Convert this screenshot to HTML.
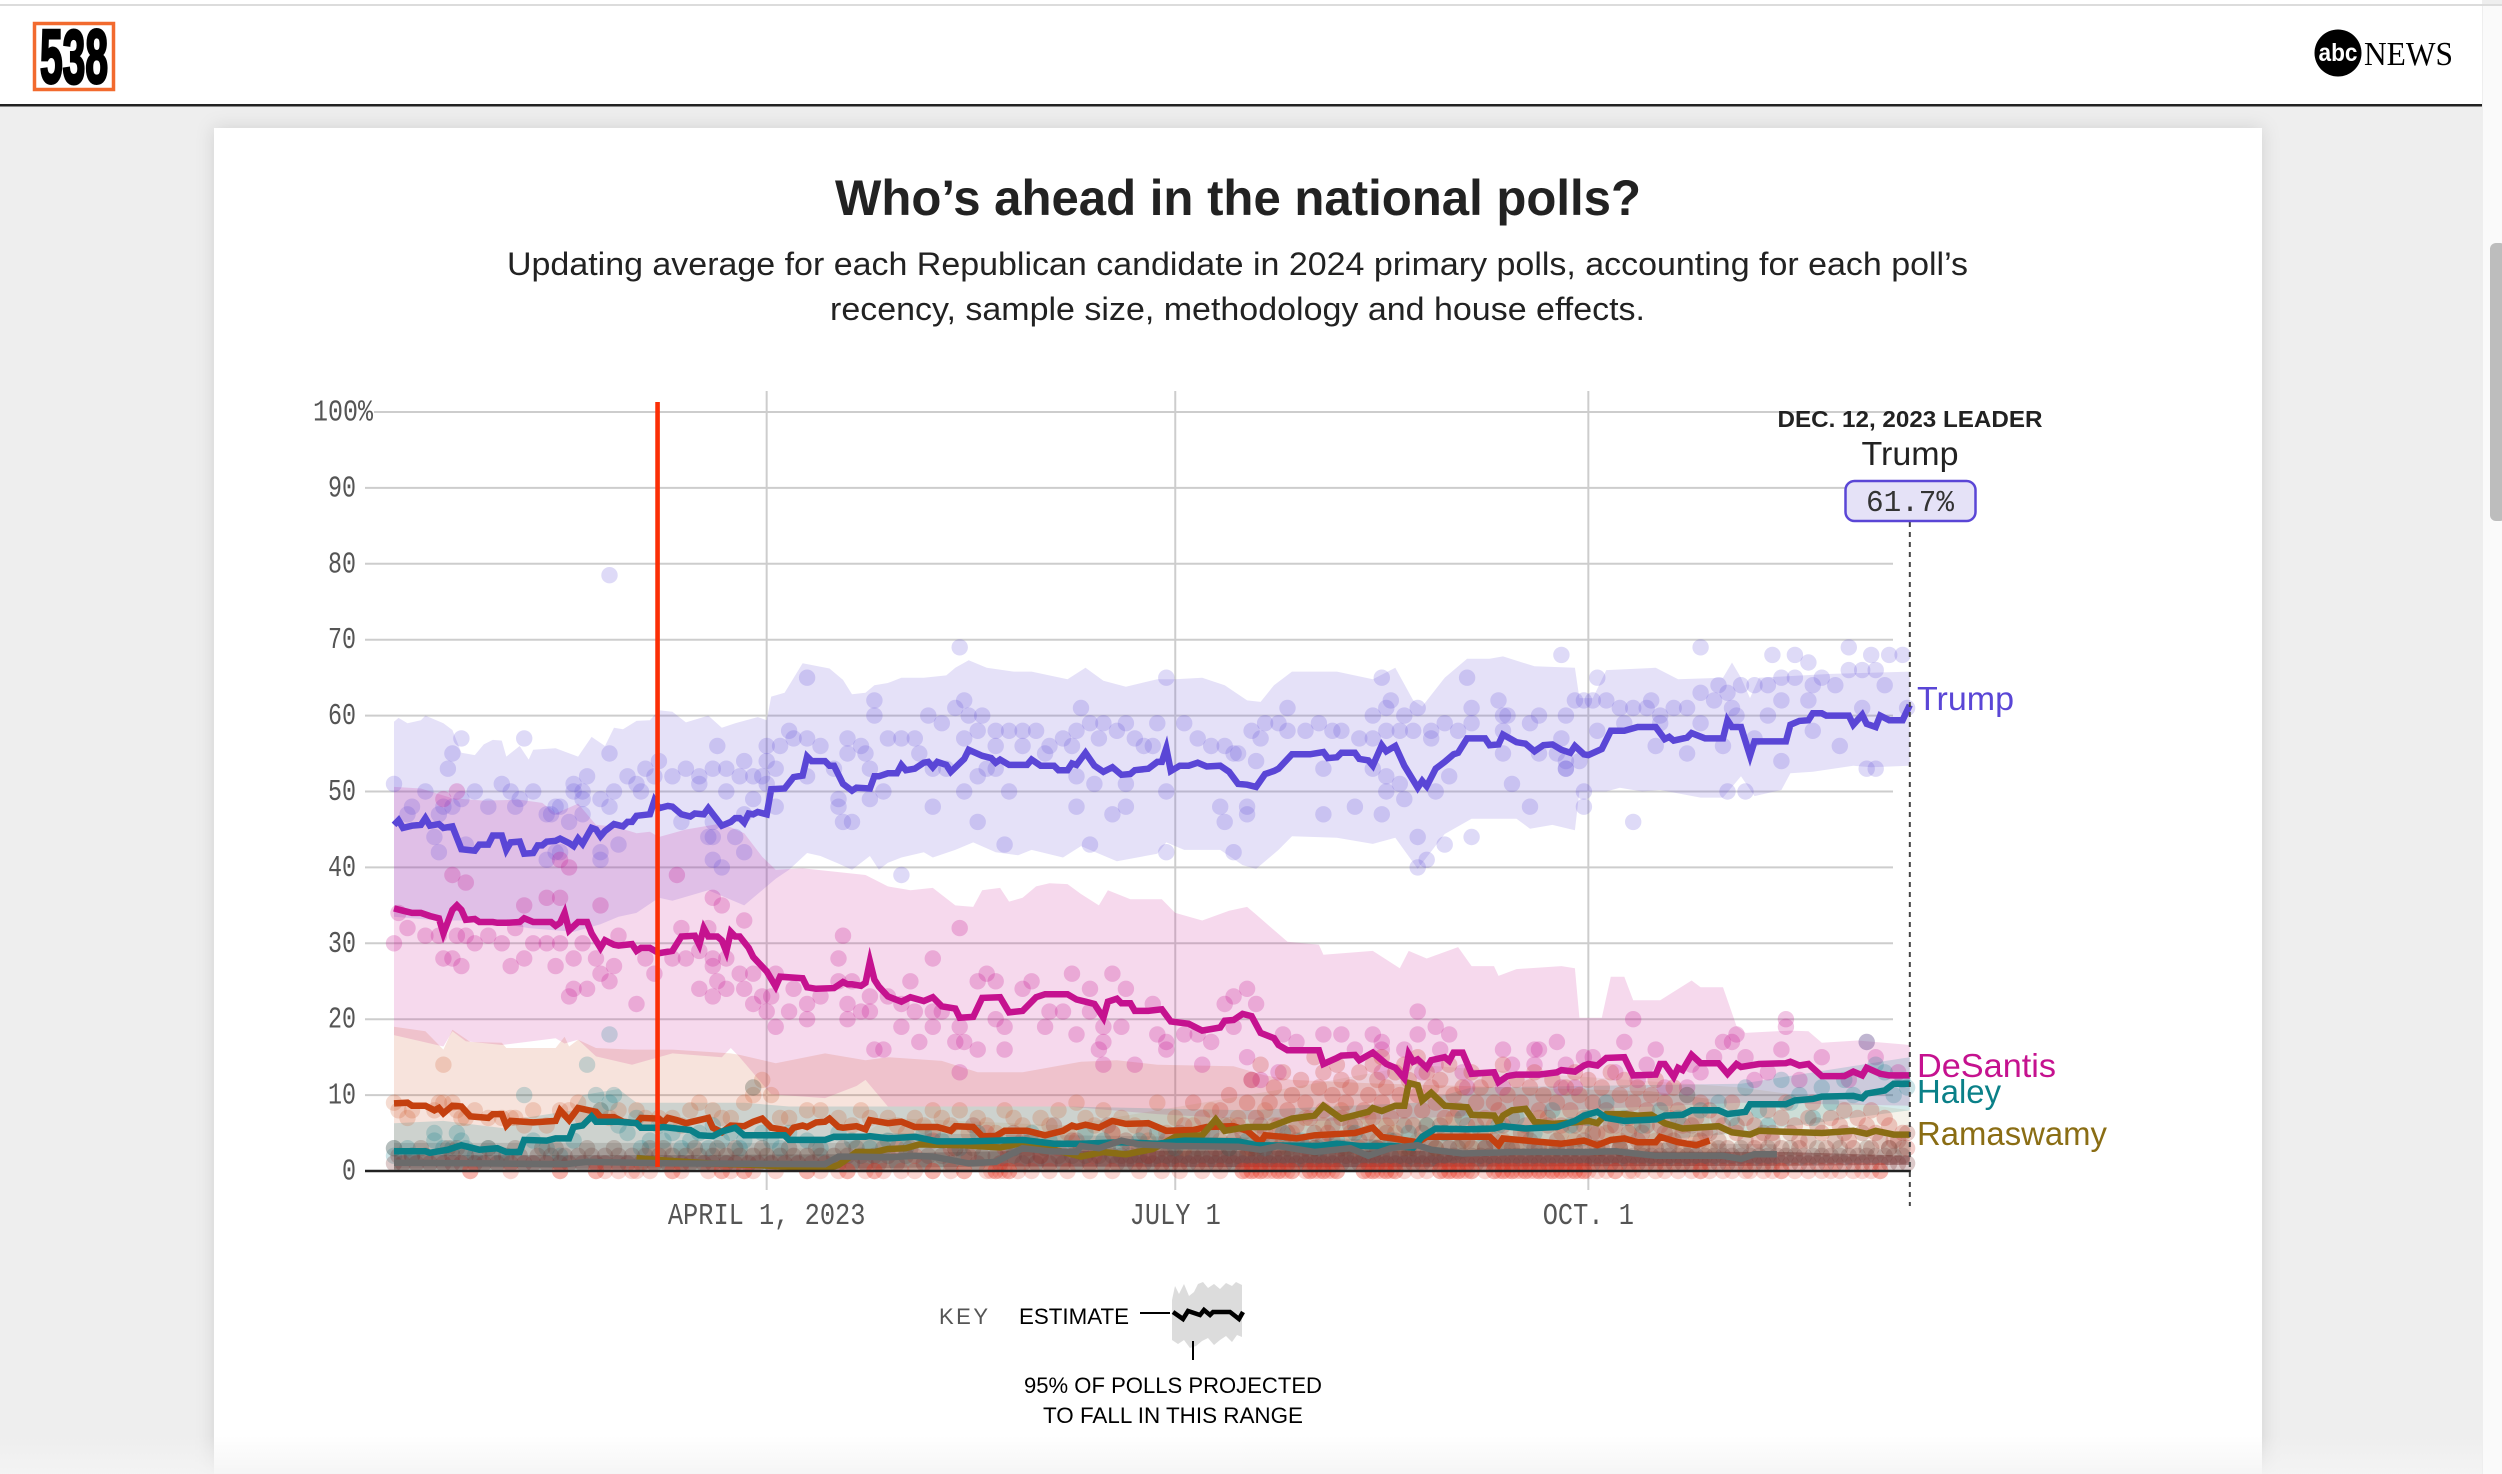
<!DOCTYPE html>
<html lang="en">
<head>
<meta charset="utf-8">
<title>Who’s ahead in the national polls?</title>
<style>
html,body{margin:0;padding:0;width:2502px;height:1474px;overflow:hidden;background:#eee;}
svg{display:block;position:absolute;left:0;top:0;font-family:"Liberation Sans",sans-serif;}
.mono{font-family:"Liberation Mono",monospace;fill:#555;font-size:31px;}
</style>
</head>
<body>
<svg id="page" width="2502" height="1474" viewBox="0 0 2502 1474" xmlns="http://www.w3.org/2000/svg">
<defs>
<filter id="cardShadow" x="-5%" y="-5%" width="110%" height="110%"><feDropShadow dx="0" dy="0" stdDeviation="9" flood-color="#000" flood-opacity="0.13"/></filter>
<linearGradient id="fade" x1="0" y1="0" x2="0" y2="1"><stop offset="0" stop-color="#f4f4f4" stop-opacity="0"/><stop offset="1" stop-color="#f4f4f4" stop-opacity="0.9"/></linearGradient>
</defs>
<rect x="0" y="0" width="2502" height="1474" fill="#eeeeee"/>
<rect x="214" y="128" width="2048" height="1400" fill="#ffffff" filter="url(#cardShadow)"/>
<rect x="0" y="0" width="2482" height="104" fill="#ffffff"/>
<rect x="0" y="4" width="2502" height="2" fill="#dcdcdc"/>
<rect x="0" y="104" width="2482" height="2.5" fill="#222222"/>
<g>
<rect x="2483" y="6" width="19" height="1468" fill="#fafafa"/>
<rect x="2490" y="243" width="16" height="278" rx="6" fill="#bdbdbd"/>
</g>
<g>
<rect x="34.5" y="23.5" width="79" height="66" fill="#ffffff" stroke="#f26a2e" stroke-width="3.5"/>
<text x="40" y="83" font-size="76" font-weight="700" fill="#000" stroke="#000" stroke-width="3" textLength="68" lengthAdjust="spacingAndGlyphs">538</text>
</g>
<g>
<circle cx="2338" cy="53" r="23.5" fill="#000"/>
<text x="2338" y="61" text-anchor="middle" font-size="25" font-weight="700" fill="#fff" textLength="39" lengthAdjust="spacingAndGlyphs">abc</text>
<text x="2364" y="65" font-family="'Liberation Serif',serif" font-size="34" fill="#000" textLength="89" lengthAdjust="spacingAndGlyphs">NEWS</text>
</g>
<text x="1238" y="215" text-anchor="middle" font-size="50" font-weight="700" fill="#222" textLength="806" lengthAdjust="spacingAndGlyphs">Who’s ahead in the national polls?</text>
<text x="1237.5" y="275" text-anchor="middle" font-size="32" fill="#222" textLength="1461" lengthAdjust="spacingAndGlyphs">Updating average for each Republican candidate in 2024 primary polls, accounting for each poll’s</text>
<text x="1237.5" y="320" text-anchor="middle" font-size="32" fill="#222" textLength="815" lengthAdjust="spacingAndGlyphs">recency, sample size, methodology and house effects.</text>
<g id="grid"></g>
<g id="bands"></g>
<g id="dots"></g>
<g id="lines"></g>
<g id="overlay"></g>
<g>
<text x="1910" y="427" text-anchor="middle" font-size="23" font-weight="700" fill="#222" textLength="265" lengthAdjust="spacingAndGlyphs">DEC. 12, 2023 LEADER</text>
<text x="1910" y="465" text-anchor="middle" font-size="33" fill="#222" textLength="97" lengthAdjust="spacingAndGlyphs">Trump</text>
<rect x="1845.5" y="481" width="130" height="40" rx="9" fill="#e5e2f7" stroke="#5a46d6" stroke-width="2.5"/>
<text class="mono" x="1910" y="511" text-anchor="middle" style="fill:#333" textLength="88" lengthAdjust="spacingAndGlyphs">61.7%</text>
</g>
<text x="1917" y="710" font-size="33" fill="#5a46d6" textLength="97" lengthAdjust="spacingAndGlyphs">Trump</text>
<text x="1917" y="1077" font-size="33" fill="#c5128f" textLength="139" lengthAdjust="spacingAndGlyphs">DeSantis</text>
<text x="1917" y="1103" font-size="33" fill="#0a8088" textLength="84" lengthAdjust="spacingAndGlyphs">Haley</text>
<text x="1917" y="1145" font-size="33" fill="#8a6d14" textLength="190" lengthAdjust="spacingAndGlyphs">Ramaswamy</text>
<g>
<text x="939" y="1324" font-size="22" fill="#555" textLength="49" lengthAdjust="spacing">KEY</text>
<text x="1019" y="1324" font-size="22" fill="#000" textLength="110" lengthAdjust="spacingAndGlyphs">ESTIMATE</text>
<line x1="1140" y1="1313" x2="1170" y2="1313" stroke="#000" stroke-width="2"/>
<polygon fill="#dcdcdc" points="1172,1300 1175,1286 1179,1294 1184,1284 1189,1296 1194,1292 1198,1284 1203,1282 1208,1288 1214,1284 1220,1289 1226,1283 1232,1286 1236,1282 1242,1285 1242,1337 1237,1335 1232,1342 1226,1336 1220,1340 1214,1345 1208,1338 1202,1341 1196,1346 1190,1348 1184,1340 1178,1344 1172,1340"/>
<polyline fill="none" stroke="#000" stroke-width="4.5" points="1173,1312 1183,1319 1188,1311 1200,1315 1204,1310 1210,1315 1213,1312 1230,1312 1239,1319 1243,1312"/>
<line x1="1193" y1="1341" x2="1193" y2="1360" stroke="#000" stroke-width="2"/>
<text x="1024" y="1393" font-size="22" fill="#000" textLength="298" lengthAdjust="spacingAndGlyphs">95% OF POLLS PROJECTED</text>
<text x="1043" y="1423" font-size="22" fill="#000" textLength="260" lengthAdjust="spacingAndGlyphs">TO FALL IN THIS RANGE</text>
</g>
<rect x="0" y="1436" width="2482" height="38" fill="url(#fade)"/>
</svg>
<script>
const yTickValues=[0,10,20,30,40,50,60,70,80,90,100];
const xTickDays=[83,174,266];
const xTickLabels=['APRIL 1, 2023','JULY 1','OCT. 1'];
const markerDay=58.7;
const lastDay=337.6;

const trumpAvg=[[0,45.6],[1,46.2],[2,45.2],[4,45.5],[6,45.6],[7,46.5],[8,45.5],[10,45.7],[11,45.2],[13,45.4],[15,42.4],[18,42.2],[19,43],[21,43],[22,44.2],[24,44.2],[25,42.3],[26,43.3],[28,43.4],[29,41.8],[31,41.9],[32,42.9],[33,42.9],[34,43.4],[36,43.5],[37,43.8],[39,43.2],[40,42.8],[41,43.8],[42,43.1],[44,45.2],[45,45],[46,44.1],[47,44.8],[49,45.7],[51,45.4],[52,46],[53,46],[54,46.8],[57,47],[58,48.8],[59,47.8],[61,48.1],[62,48],[64,47],[66,46.7],[67,47.1],[69,47],[70,47.8],[73,45.5],[75,46],[76,46.5],[77,46.5],[78,45.9],[79,47.1],[80,47],[81,47.3],[83,47],[84,50.3],[87,50.4],[89,51.9],[91,52.1],[92,54.6],[93,54],[96,54],[97,53.4],[98,53.4],[100,51],[102,50.1],[103,50.5],[106,50.4],[107,52],[108,52],[110,52.4],[112,52.4],[113,53.5],[114,52.8],[116,53],[118,53.8],[119,53.9],[120,53.2],[121,53.9],[123,53.5],[124,52.6],[127,54.3],[128,55.5],[131,54.7],[133,54.4],[134,53.8],[135,54.2],[137,53.5],[141,53.5],[142,54.2],[144,53.4],[147,53.4],[148,52.8],[150,52.8],[151,53.7],[152,53.5],[154,55.1],[156,53.4],[158,52.6],[160,53.2],[162,52.2],[164,52.3],[165,52.8],[168,53],[170,53.9],[171,53.9],[172,55.7],[173,52.7],[175,53.4],[177,53.4],[179,53.8],[181,53.3],[184,53.4],[186,52.6],[188,51],[190,50.9],[192,50.6],[194,52.3],[196,52.7],[197,53],[200,54.9],[204,54.9],[207,55.2],[208,54.4],[210,54.5],[211,55.1],[214,55.1],[215,54.3],[217,54.1],[218,53.4],[220,56.1],[221,55.3],[223,56],[225,53.4],[228,50.5],[229,51.4],[230,50.7],[232,53],[234,53.9],[236,54.9],[237,55.1],[239,57],[243,57],[244,56.1],[246,56.2],[247,57.5],[250,56.5],[252,56.3],[254,55.3],[256,56.1],[258,56.2],[260,55.5],[262,55.1],[263,56],[265,54.9],[266,54.8],[269,55.6],[271,58],[274,58],[277,58.5],[281,58.5],[283,56.9],[284,57.2],[285,56.7],[288,57.1],[289,57.7],[292,57],[296,57],[297,59.4],[298,58.5],[300,58.5],[302,54.7],[303,56.6],[310,56.6],[311,58.8],[313,59.3],[315,59.4],[316,60.3],[318,60.3],[319,60],[324,60],[325,58.8],[327,60.1],[328,58.9],[330,58.5],[331,60],[333,59.4],[336,59.4],[337.6,61.4]];
const desantisAvg=[[0,34.6],[2,34.3],[4,34],[6,34],[8,33.6],[10,33.3],[11,31.3],[13,34.4],[14,35],[15,34.4],[16,33.1],[18,33.2],[19,32.8],[22,32.8],[23,32.7],[25,32.7],[28,32.8],[29,33.3],[31,32.8],[34,32.8],[35,32.8],[36,32.3],[37,32.7],[38,34],[39,31.7],[41,32.8],[43,32.8],[44,31.3],[46,29.4],[47,30.4],[49,29.8],[50,29.7],[53,29.9],[54,29],[55,29.4],[57,29.4],[59,28.7],[62,29],[64,30.9],[67,31],[68,29.8],[69,32],[70,30.9],[72,30.9],[73,30.4],[74,28.9],[75,31.5],[76,30.9],[77,30.9],[79,29.4],[80,28.2],[83,26.3],[85,24.3],[86,25.6],[91,25.4],[92,24.2],[94,24],[98,24.1],[100,24.9],[101,24.6],[102,24.6],[104,24.4],[105,24.8],[106,27.6],[107,25.2],[108,24.3],[110,23],[113,22.3],[115,22.9],[118,22.4],[120,22.9],[122,21.7],[125,21.4],[126,20.2],[129,20.3],[131,22.8],[135,22.9],[137,20.9],[140,21.1],[143,22.9],[145,23.3],[150,23.3],[152,22.6],[154,22.3],[156,22],[158,20.2],[159,22.3],[161,22.7],[162,22.1],[164,22.1],[165,21.1],[168,21.1],[171,21.3],[173,19.7],[177,19.4],[180,18.5],[184,18.9],[185,19.8],[187,19.9],[189,20.7],[191,20.4],[193,18.2],[196,17.5],[197,16.6],[199,15.9],[206,15.9],[207,14.1],[210,14.9],[211,15.2],[214,15.3],[215,14.6],[218,15.6],[221,14.1],[223,13.6],[225,12.2],[226,15.4],[227,14.4],[228,14.7],[230,13.6],[231,14.6],[234,15],[235,14.5],[236,15.6],[238,15.6],[240,12.8],[245,13],[246,11.7],[248,12.5],[250,12.7],[255,12.7],[259,13],[260,13.3],[263,13.1],[265,13.9],[266,14.1],[268,13.9],[270,14.9],[274,15],[276,12.6],[281,12.7],[282,14.1],[283,14.1],[285,12.4],[286,13.6],[287,13.3],[289,15.3],[291,14.2],[295,14.2],[297,12.8],[299,14.1],[300,13.7],[304,14.1],[310,14.2],[311,14.4],[313,13.9],[315,14.1],[318,12.5],[323,12.5],[325,13.1],[327,12.6],[328,13.6],[331,12.8],[333,12.6],[337.6,12.6]];
const penceAvg=[[0,8.9],[3,9],[4,8.6],[7,8.6],[9,8],[10,8.3],[11,7.6],[13,8.6],[15,8.5],[17,7.2],[21,7],[22,7.5],[24,7.5],[25,6],[26,6.6],[31,6.4],[36,6.6],[37,8],[39,6.7],[41,8.3],[45,7.8],[46,7.1],[49,7.1],[51,6.5],[54,6.3],[55,7],[59,6.9],[60,6.4],[61,7],[63,6.7],[65,6.3],[70,7],[71,5.7],[73,5.1],[75,6],[78,5.9],[80,6.5],[82,6.9],[84,5.7],[87,5.4],[88,5],[89,5.7],[91,6],[92,5.8],[94,6.4],[96,6.5],[97,6.9],[99,5.8],[100,5.7],[103,5.9],[105,5.5],[106,6.7],[110,6.3],[113,6.5],[116,5.8],[121,5.8],[124,5.3],[125,5.9],[129,5.8],[131,4.6],[134,4.6],[136,5.3],[141,5.3],[145,4.7],[149,5.3],[151,6],[152,5.8],[154,6.1],[157,5.7],[160,6.6],[163,6.2],[168,6.3],[172,5.3],[178,5.4],[181,5.8],[187,5.9],[190,5.3],[193,3.8],[194,4.7],[198,4.5],[201,4.3],[205,4.7],[214,5],[218,5.7],[220,4.5],[228,3.8],[230,4.5],[238,4.5],[244,4.5],[246,3.4],[247,4.3],[254,3.9],[260,3.6],[265,4],[268,3.4],[271,4.1],[274,4.3],[277,3.8],[281,3.8],[282,4.5],[286,3.8],[290,3.4],[293,4]];
const haleyAvg=[[0,2.6],[7,2.6],[8,2.4],[12,2.8],[15,3.4],[19,2.8],[23,3],[25,2.5],[28,2.5],[29,4.1],[34,4],[36,4.3],[39,4.3],[40,5.8],[42,6],[44,7.2],[45,6.5],[50,6.5],[54,6.3],[55,5.7],[59,5.7],[60,5.8],[66,5.4],[68,4.7],[71,4.6],[73,5.2],[76,5.7],[78,4.7],[87,4.7],[88,4.1],[96,4.1],[98,4.5],[105,4.5],[106,4.6],[110,4.3],[116,4.5],[121,3.9],[128,3.9],[140,4.1],[147,3.6],[153,3.6],[162,3.8],[170,3.6],[176,4],[188,3.9],[192,3.4],[206,3.3],[210,3.6],[215,3.3],[222,3.3],[227,3.1],[229,4.5],[232,5.6],[239,5.5],[245,5.6],[247,5.9],[252,5.6],[259,5.8],[263,6.6],[265,7.3],[268,7.8],[270,7],[274,6.6],[281,6.8],[283,7.3],[287,7.4],[289,8],[295,8],[297,7.5],[301,7.8],[302,8.8],[310,8.8],[312,9.3],[316,9.5],[318,9.8],[325,9.9],[327,9.6],[328,10.2],[332,10.6],[334,11.5],[337.6,11.5]];
const ramaswamyAvg=[[54,1.7],[60,1.4],[70,1],[80,0.8],[90,0.5],[97,0.4],[99,0.8],[100,1.2],[103,2.5],[107,2.5],[110,2.9],[114,3],[117,3.5],[127,3.4],[135,3.1],[140,3.7],[147,2.8],[153,1.9],[158,2.5],[163,2.2],[169,2.9],[174,4.5],[180,4.7],[183,6.8],[185,5.3],[190,5.8],[195,5.8],[200,6.9],[205,7.3],[207,8.6],[211,6.9],[217,7.8],[218,8.3],[220,7.9],[223,8.6],[225,8.6],[226,11.6],[228,11.3],[229,9.3],[231,10.3],[234,8.6],[239,8.4],[240,7.4],[245,7.3],[246,6.3],[247,7.3],[249,8],[252,8.2],[254,6.5],[258,6.2],[263,6.4],[266,6.6],[268,6.3],[270,7.5],[274,7.5],[277,7.3],[280,7.4],[283,6.3],[287,5.6],[295,5.9],[298,5.1],[302,4.8],[304,5.3],[318,5],[325,5.3],[328,4.9],[330,5.3],[334,4.8],[337.6,4.8]];
const othersAvg=[[0,1.1],[20,1],[38,0.9],[43,1.2],[62,1],[96,0.9],[99,1.9],[103,1.9],[110,1.8],[116,2],[120,1.9],[128,1],[134,1.2],[140,3],[146,2.6],[152,2.5],[153,3.3],[157,3],[162,4],[166,3.5],[174,3.3],[188,3.2],[193,2.8],[197,3.3],[205,2.5],[213,3],[217,2],[222,3],[228,3.4],[231,2.8],[238,2.3],[250,2.5],[266,2.5],[272,2.6],[281,2],[296,2],[300,1.6],[303,2.2],[308,2.2]];

const trumpUpper=[[0,59.2],[1,59.7],[3,59],[6,59.4],[7,60],[11,59],[13,58.1],[15,55.1],[18,54.8],[20,56.2],[22,56.8],[24,56.7],[25,54.6],[28,56],[30,54.2],[31,55.5],[36,55.7],[41,54.6],[44,57.2],[45,56.8],[47,56],[49,58.4],[51,58.2],[54,59.3],[57,59.4],[59,60.7],[62,60.5],[65,59.1],[70,60],[73,58.4],[76,59],[81,59.8],[83,59.4],[84,62.5],[87,63],[91,66.9],[97,66.2],[100,64.7],[102,62.8],[105,63],[107,64],[110,64.3],[113,65],[118,65],[123,65.3],[125,66.3],[128,67.3],[132,66.3],[138,65.8],[142,65.8],[150,64.8],[154,66.3],[158,64.6],[163,63.8],[170,64.8],[174,64.8],[180,65],[185,64],[190,62],[193,61.8],[196,64],[200,65.8],[210,65.8],[218,64.8],[223,66.3],[227,62],[229,61.2],[234,65],[239,67.5],[244,67.5],[247,67.8],[254,66.5],[263,66.3],[264,62.3],[267,62.3],[270,66],[281,66.3],[286,64.8],[296,65],[298,67],[300,65],[302,62.3],[304,65],[320,65.5],[337.6,65.8]];
const trumpLower=[[0,33.5],[10,33],[20,33],[30,32],[40,31.5],[46,32.5],[50,33.5],[54,34],[59,36],[62,35.6],[70,37],[78,35],[83,37.5],[85,38.5],[88,39.7],[92,41.9],[95,41.5],[99,40.5],[102,39.7],[106,41.5],[108,39.7],[110,40.6],[113,41.3],[118,42],[120,41.3],[125,42.3],[129,43.3],[134,42],[139,41.6],[142,42.3],[149,41.3],[153,42.8],[161,40.8],[170,41.8],[172,43.3],[176,42.3],[184,42.3],[189,40.3],[192,39.8],[197,42.3],[200,44.1],[210,43.9],[218,43.1],[223,43.9],[228,39.8],[234,44.4],[240,46.4],[250,46.4],[253,45.1],[258,45.6],[263,44.9],[264,50],[270,50],[273,50.5],[278,50],[282,50.2],[291,49.2],[296,49.2],[300,52],[303,49.4],[309,50.2],[311,52.4],[316,52.6],[325,53.4],[329,53.2],[337.6,53.4]];
const desantisUpper=[[0,50.6],[6,50.4],[13,49.1],[20,48.8],[28,48.9],[33,48.5],[36,47.1],[41,48.4],[45,45.6],[49,45.4],[54,44.5],[57,44.7],[59,44],[65,45],[73,45.8],[78,44.5],[82,41.4],[85,39.7],[91,39.9],[105,39],[110,37.5],[115,37],[120,37.3],[125,35],[129,34.8],[131,37],[135,37.3],[137,35.5],[140,36],[143,37.5],[146,37.9],[150,37.8],[153,36.5],[157,35],[159,37],[164,35.8],[171,35.8],[174,34],[180,33],[186,34.3],[190,34.8],[192,33.8],[199,30.2],[206,29.8],[207,28.5],[218,29],[224,26.7],[226,29],[230,28],[237,29.5],[240,27],[245,27],[246,25.7],[250,26.6],[260,27],[263,26.7],[264,20.2],[269,20.2],[271,25.6],[274,25.6],[276,22.5],[282,22.5],[289,25.1],[291,24.2],[296,24.2],[299,19.1],[301,18.2],[311,18.5],[315,18.4],[318,16.9],[326,17.2],[337.6,16.6]];
const desantisLower=[[0,17.9],[11,16.4],[13,18.4],[16,17.1],[24,16.6],[36,17.5],[38,16.8],[41,17.3],[45,15.1],[53,14],[62,15.5],[73,15],[75,16.2],[77,15],[84,10.1],[96,9.6],[103,11.2],[105,12],[110,8.5],[150,8.5],[170,7.5],[200,6.5],[230,7],[260,8],[300,9],[337.6,8.6]];
const penceUpper=[[0,19],[7,18.4],[11,16],[13,18.6],[17,17],[24,16.9],[25,16.2],[36,16.2],[38,17.7],[39,16.4],[41,17.3],[45,16.2],[53,16],[62,16],[75,15.5],[77,15.3],[85,14.2],[96,15.5],[105,14.6],[110,15],[122,14.5],[130,13],[140,13],[153,14.4],[161,14.6],[170,14],[187,13.8],[194,12.6],[200,12],[220,11.5],[250,11],[280,10.5],[293,9.5]];
const penceLower=[[0,0],[293,0]];
const haleyUpper=[[0,6.3],[11,6.6],[25,5.6],[29,7],[40,8],[42,10],[50,10.8],[54,9],[78,9],[88,8.5],[110,8.5],[150,8.5],[190,8],[228,9],[240,11],[300,11.5],[337.6,15]];
const haleyLower=[[0,0],[228,0],[240,2],[300,5],[337.6,8]];
const ramaswamyUpper=[[54,3],[100,3],[110,7],[150,6],[180,9],[200,11],[228,14],[250,13],[300,11],[337.6,8]];
const ramaswamyLower=[[54,0],[300,0],[337.6,2]];
const othersUpper=[[0,3.7],[100,3.7],[110,5],[308,3.5]];
const othersLower=[[0,0],[308,0]];
const earlyMinorUpper=[[0,2.1],[60,2.1],[100,2.2],[135,2.6]];
const earlyMinorLower=[[0,0.3],[60,0.3],[100,0.3],[135,0.6]];
const minorUpper=[[135,2.6],[200,2.7],[260,2.6],[310,2.5],[337.6,2]];
const minorLower=[[135,0.6],[200,0.5],[260,0.6],[310,0.7],[337.6,0.8]];

const trumpPolls=[[0,51],[3,47],[4,48],[7,50],[9,44],[10,42],[10,47],[11,48],[12,53],[13,55],[15,57],[13,48],[15,49],[16,43],[18,50],[21,48],[24,51],[26,50],[27,48],[28,49],[29,57],[31,50],[34,47],[35,47],[36,48],[37,48],[34,41],[36,42],[37,42],[39,46],[40,51],[40,50],[42,50],[42,47],[43,52],[42,49],[46,49],[48,48],[48,55],[49,50],[48,78.5],[46,42],[46,41],[50,43],[52,52],[54,51],[55,50],[56,53],[58,52],[59,54],[62,52],[64,46],[65,53],[68,52],[68,51],[71,53],[72,56],[70,44],[71,44],[71,46],[71,41],[73,40],[74,53],[74,50],[76,44],[77,52],[78,54],[78,47],[78,42],[80,52],[80,49],[82,52],[83,56],[83,54],[83,51],[85,53],[85,48],[86,56],[88,58],[89,57],[92,65],[92,57],[92,52],[95,56],[98,53],[99,49],[99,48],[100,46],[102,46],[101,57],[101,55],[104,56],[105,55],[106,53],[106,49],[107,62],[107,60],[109,50],[110,57],[126,69],[113,57],[116,57],[117,55],[119,60],[122,59],[125,61],[127,62],[128,60],[131,60],[127,57],[130,58],[134,58],[134,56],[137,58],[140,58],[140,56],[143,58],[146,56],[145,55],[149,57],[151,56],[152,58],[155,59],[153,61],[158,59],[161,58],[163,59],[157,57],[165,57],[167,56],[169,56],[170,59],[172,65],[176,59],[179,57],[182,56],[185,56],[187,55],[188,55],[191,58],[193,57],[194,59],[197,59],[199,61],[199,58],[203,58],[206,59],[209,58],[211,58],[215,57],[218,60],[218,57],[221,61],[222,62],[220,65],[221,58],[224,58],[225,60],[228,61],[227,58],[231,58],[234,59],[231,57],[237,58],[240,61],[239,65],[240,59],[246,62],[247,60],[247,58],[253,59],[255,60],[260,68],[261,60],[260,57],[263,62],[265,62],[247,55],[261,53],[249,51],[253,48],[265,50],[265,48],[120,53],[123,53],[130,52],[132,53],[134,53],[127,50],[120,48],[137,50],[130,46],[136,43],[113,39],[152,52],[156,51],[152,48],[160,47],[163,48],[163,51],[172,50],[155,43],[172,42],[184,48],[185,46],[190,48],[190,47],[187,42],[192,54],[207,53],[207,47],[214,48],[220,47],[221,52],[221,50],[225,49],[224,51],[228,44],[230,41],[228,40],[234,43],[240,44],[235,52],[232,50],[218,53],[291,69],[307,68],[312,68],[324,69],[329,68],[333,68],[336,68],[268,65],[267,62],[270,62],[273,61],[276,61],[280,62],[279,61],[282,60],[285,61],[288,61],[291,63],[294,62],[295,64],[297,63],[298,61],[300,64],[303,64],[306,64],[309,65],[309,62],[312,65],[315,67],[316,64],[315,62],[318,65],[321,64],[324,66],[327,66],[330,66],[332,64],[327,61],[291,59],[282,59],[274,59],[268,58],[248,60],[288,55],[281,56],[296,56],[306,60],[299,60],[316,58],[322,56],[309,54],[328,53],[330,53],[303,57],[337,61],[255,55],[259,55],[261,54],[261,53],[264,54],[276,46],[297,50],[301,50]];
const desantisPolls=[[0,30],[1,34],[3,32],[7,31],[10,31],[11,28],[13,28],[15,27],[14,31],[16,31],[18,30],[21,31],[24,30],[26,27],[29,28],[27,32],[29,35],[31,30],[34,36],[34,30],[36,27],[37,36],[37,30],[40,28],[42,30],[39,23],[40,24],[43,24],[45,28],[46,26],[46,35],[48,25],[49,27],[50,31],[54,22],[56,28],[58,26],[62,28],[64,32],[65,28],[68,24],[68,29],[70,32],[71,27],[71,23],[72,25],[71,28],[71,36],[73,35],[74,24],[74,28],[77,26],[78,33],[78,24],[80,26],[80,22],[82,23],[84,23],[83,21],[85,26],[85,19],[88,21],[89,24],[92,22],[92,20],[95,23],[99,28],[100,31],[99,25],[101,22],[101,20],[102,25],[104,21],[106,21],[106,23],[107,16],[109,16],[110,23],[11,49],[14,50],[13,39],[16,38],[37,41],[39,40],[63,39],[126,32],[120,28],[115,25],[113,22],[116,21],[113,19],[117,17],[120,21],[122,21],[120,19],[125,17],[127,17],[126,19],[130,16],[126,13],[130,25],[132,26],[134,25],[134,20],[136,19],[136,16],[140,24],[142,25],[145,19],[146,21],[149,21],[151,26],[152,18],[155,24],[155,21],[160,26],[163,24],[158,17],[157,16],[158,14],[165,14],[162,19],[158,19],[169,22],[170,18],[172,17],[172,16],[176,18],[179,18],[180,14],[182,17],[185,22],[187,23],[190,24],[192,22],[187,19],[190,15],[191,12],[198,18],[201,17],[193,12],[197,13],[207,18],[211,18],[214,16],[218,18],[220,17],[225,16],[228,21],[228,18],[232,19],[235,18],[233,16],[220,13],[220,16],[238,13],[247,16],[254,16],[259,17],[249,14],[254,14],[260,11],[263,11],[247,11],[239,11],[229,13],[232,14],[276,20],[274,17],[281,16],[255,16],[294,15],[298,17],[299,18],[296,17],[310,20],[310,19],[309,16],[318,15],[328,17],[265,15],[267,15],[261,14],[289,14],[303,12],[313,12],[272,13],[277,12],[283,11],[288,11],[291,13],[301,15],[306,13],[324,12],[330,15],[335,13],[279,14]];
const pencePolls=[[0,9],[1,8],[3,7],[4,8],[9,8],[10,9],[11,9],[11,14],[13,9],[14,8],[15,7],[16,7],[18,8],[21,7],[24,7],[26,7],[27,7],[29,6],[31,8],[34,6],[37,8],[39,8],[41,9],[42,7],[46,8],[48,7],[50,8],[54,8],[56,7],[59,7],[62,7],[64,6],[66,8],[68,9],[71,8],[73,7],[75,7],[78,9],[80,11],[80,10],[82,12],[84,10],[86,7],[88,7],[92,8],[95,8],[99,7],[102,6],[104,8],[106,7],[110,7],[112,6],[114,5],[116,7],[118,6],[120,8],[122,7],[124,6],[126,8],[128,5],[130,7],[132,6],[134,5],[136,8],[138,7],[140,6],[142,4],[144,7],[146,6],[148,8],[150,5],[152,9],[154,7],[156,6],[158,8],[160,5],[162,7],[165,6],[168,4],[170,9],[172,5],[174,7],[176,3],[178,6],[180,5],[182,8],[184,4],[186,6],[188,7],[190,3],[192,5],[194,8],[196,6],[198,4],[200,5],[203,7],[205,3],[207,6],[209,4],[211,8],[213,5],[215,3],[217,7],[219,4],[221,6],[223,5],[225,3],[228,4],[230,6],[232,3],[234,5],[236,7],[238,4],[240,3],[243,5],[245,6],[247,4],[250,3],[252,5],[255,7],[258,3],[260,5],[263,4],[265,6],[268,3],[270,5],[273,4],[276,6],[278,3],[281,4],[284,5],[287,3],[290,4],[293,3]];
const haleyPolls=[[0,2],[0,3],[3,3],[4,2],[9,4],[9,5],[11,3],[13,3],[14,5],[15,4],[16,3],[18,2],[21,3],[24,2],[29,10],[31,4],[34,3],[37,2],[40,4],[43,14],[45,10],[46,8],[48,9],[48,18],[49,10],[50,6],[52,5],[54,7],[55,3],[57,4],[59,6],[60,4],[62,5],[64,3],[66,4],[68,5],[70,3],[71,6],[73,4],[75,5],[77,3],[78,4],[80,11],[82,5],[84,4],[86,3],[88,5],[92,4],[95,3],[99,5],[102,4],[106,3],[110,4],[114,3],[118,5],[122,4],[126,3],[130,5],[134,4],[138,3],[142,5],[146,4],[150,3],[154,5],[158,4],[162,3],[166,4],[170,5],[174,3],[178,4],[182,5],[186,3],[190,4],[194,3],[198,5],[202,4],[206,3],[210,4],[214,5],[218,3],[222,4],[226,5],[230,6],[234,5],[238,7],[242,5],[246,6],[250,7],[254,5],[258,8],[262,6],[266,7],[270,9],[274,7],[278,6],[282,8],[286,7],[288,10],[291,8],[295,9],[298,7],[301,11],[304,8],[306,6],[309,12],[311,9],[313,10],[316,7],[318,11],[320,9],[323,12],[325,10],[328,17],[330,14],[332,13],[334,10],[336,12],[337,11]];
const ramaswamyPolls=[[112,3],[116,2],[120,4],[124,3],[128,2],[132,5],[136,3],[140,4],[144,2],[148,3],[152,4],[156,2],[160,5],[164,3],[168,2],[172,4],[176,6],[178,9],[180,7],[182,5],[184,8],[186,10],[188,6],[190,9],[191,12],[192,7],[193,14],[194,5],[195,9],[196,11],[197,6],[198,13],[199,8],[200,10],[201,6],[202,12],[203,9],[204,7],[205,15],[206,11],[207,8],[207,13],[208,5],[209,10],[210,14],[211,7],[211,12],[212,9],[213,11],[214,6],[215,13],[216,8],[217,10],[218,14],[218,7],[219,12],[220,9],[220,15],[221,11],[222,7],[223,13],[224,10],[225,8],[225,14],[226,12],[227,6],[228,15],[228,10],[229,8],[230,13],[231,11],[232,9],[233,12],[234,7],[235,14],[236,10],[237,8],[238,11],[239,6],[240,13],[241,9],[242,11],[243,7],[244,12],[245,9],[246,8],[247,14],[248,10],[249,7],[250,12],[251,9],[252,6],[253,11],[254,13],[255,8],[256,10],[257,7],[258,12],[259,9],[260,6],[261,11],[262,8],[263,13],[264,10],[265,7],[266,12],[267,9],[268,5],[269,11],[270,8],[271,13],[272,6],[273,10],[274,12],[275,7],[276,9],[277,11],[278,5],[279,8],[280,10],[281,12],[282,6],[283,9],[284,7],[285,11],[286,8],[287,6],[288,10],[290,7],[291,9],[292,5],[293,8],[295,7],[296,6],[298,9],[299,5],[301,7],[303,6],[304,4],[306,8],[307,5],[309,7],[310,9],[312,6],[313,4],[315,7],[316,9],[318,5],[320,7],[322,6],[323,8],[324,4],[326,7],[328,6],[329,8],[330,5],[332,7],[333,6],[334,4],[336,5],[337,3]];
const lowScatterPolls=[[120,5],[125,3],[129,6],[133,4],[138,5],[141,3],[147,6],[151,4],[155,3],[159,6],[163,4],[167,5],[171,3],[175,5],[179,4],[183,3],[185,6],[187,4],[189,5],[191,3],[193,6],[195,4],[197,3],[199,5],[201,4],[203,3],[205,5],[207,4],[209,6],[211,3],[213,6],[215,4],[217,5],[219,3],[221,5],[223,4],[225,6],[227,3],[229,5],[231,4],[233,6],[235,3],[237,5],[239,4],[241,6],[243,3],[245,4],[247,6],[249,3],[251,5],[253,4],[255,3],[257,6],[259,4],[261,3],[263,6],[265,4],[267,5],[269,3],[271,6],[273,3],[275,5],[277,4],[279,6],[281,3],[283,5],[285,4],[287,5],[289,6],[291,4],[293,5],[295,4],[297,3],[299,6],[301,4],[303,3],[305,5],[307,4],[309,3],[311,5],[313,3],[315,4],[317,6],[319,3],[321,4],[323,5],[325,3],[327,5],[329,3],[331,4],[333,3],[335,4],[337,5]];
const zeroPollDays=[17,17,26,37,37,45,45,47,50,53,54,57,62,62,64,70,73,73,75,78,78,80,85,92,92,95,99,101,101,105,107,107,109,113,116,120,120,124,127,127,132,133,134,134,135,136,137,137,139,142,146,150,155,160,166,171,175,180,184,189,189,190,191,191,192,193,193,194,195,196,197,197,198,199,200,200,203,204,204,205,206,207,207,208,209,210,210,216,216,217,218,218,219,220,221,221,222,223,223,225,228,230,233,233,234,235,235,236,237,237,238,239,240,240,243,245,245,246,247,247,248,249,249,250,251,252,252,253,254,255,255,256,257,258,258,259,260,260,261,262,263,263,264,265,265,266,268,270,272,272,275,276,278,281,283,286,289,291,291,293,296,298,301,302,305,307,309,309,312,315,318,320,322,325,327,329,331,331];
const onePollDays=[0,2,5,8,11,13,15,18,20,23,26,29,31,34,37,39,42,45,47,50,52,55,58,61,64,66,69,71,74,76,79,81,84,87,90,93,96,99,102,105,108,112,118,124,130,135,140,143,146,149,152,155,158,161,163,165,167,169,171,173,175,177,179,181,183,185,187,189,191,193,195,197,199,201,203,205,207,209,211,213,215,217,219,221,223,225,227,229,231,233,235,237,239,241,243,245,247,249,251,253,255,257,259,261,263,265,267,269,271,273,275,277,279,281,283,285,287,289,291,293,295,297,299,301,303,305,307,309,311,313,315,317,319,321,323,325,327,329,331,333,335,337];
const twoPollDays=[1,4,7,10,13,16,19,22,25,28,32,35,38,41,44,47,50,53,56,59,62,65,68,71,74,77,80,83,86,89,92,95,98,101,104,107,110,114,119,122,127,131,134,138,141,144,148,151,154,157,160,162,164,166,168,170,172,174,176,178,180,182,184,186,188,190,192,194,196,198,200,202,204,206,208,210,212,214,216,218,220,222,224,226,228,230,232,234,236,238,240,242,244,246,248,250,252,254,256,258,260,262,264,266,268,270,272,274,276,278,280,282,284,286,288,290,292,294,296,298,300,302,304,306,308,310,312,314,316,318,320,322,324,326,328,330,332,334,336];
const threePollDays=[0,6,12,14,21,27,33,36,43,49,57,60,67,72,76,82,88,94,100,103,109,115,125,129,137,145,153,159,166,173,179,186,192,199,205,212,219,226,232,237,243,248,254,259,263,268,273,278,284,289,295,300,306,311,317,322,328,333,336];

const svgNS='http://www.w3.org/2000/svg';
const xScale=d=>394+4.49*d;
const yScale=v=>1171-7.59*v;
const gridLayer=document.getElementById('grid');
const bandLayer=document.getElementById('bands');
const dotLayer=document.getElementById('dots');
const lineLayer=document.getElementById('lines');
const overlayLayer=document.getElementById('overlay');

function make(tag,parent,name){
  const el=document.createElementNS(svgNS,tag);
  
  
  parent.appendChild(el);
  return el;
}
function drawYTick(v){
  const isTop=v===100;
  const isZero=v===0;
  const rule=make('line',gridLayer,'y-gridline-'+v);
  rule.setAttribute('x1',isTop?374:365);
  rule.setAttribute('x2',isZero?1911:1893);
  rule.setAttribute('y1',yScale(v));
  rule.setAttribute('y2',yScale(v));
  rule.setAttribute('stroke','#cdcdcd');
  rule.setAttribute('stroke-width','2');
  const t=make('text',gridLayer,'y-tick-label-'+v);
  const label=isTop?v+'%':String(v);
  t.textContent=label;
  t.setAttribute('class','mono');
  t.setAttribute('x',isTop?373:356);
  t.setAttribute('y',yScale(v)+8.5);
  t.setAttribute('text-anchor','end');
  t.setAttribute('textLength',isTop?60:label.length*14);
  t.setAttribute('lengthAdjust','spacingAndGlyphs');
}
function drawXTick(day,label){
  const rule=make('line',gridLayer,'x-gridline-'+label.toLowerCase().replace(/[^a-z0-9]+/g,'-'));
  rule.setAttribute('x1',xScale(day));
  rule.setAttribute('x2',xScale(day));
  rule.setAttribute('y1',391);
  rule.setAttribute('y2',1190);
  rule.setAttribute('stroke','#cdcdcd');
  rule.setAttribute('stroke-width','2');
  const t=make('text',gridLayer,'x-tick-label-'+label.toLowerCase().replace(/[^a-z0-9]+/g,'-'));
  t.textContent=label;
  t.setAttribute('class','mono');
  t.setAttribute('x',xScale(day));
  t.setAttribute('y',1224);
  t.setAttribute('text-anchor','middle');
  t.setAttribute('textLength',label.length*15.2);
  t.setAttribute('lengthAdjust','spacingAndGlyphs');
}
function drawBand(name,upper,lower,fill){
  const el=make('polygon',bandLayer,name);
  const top=upper.map(p=>xScale(p[0]).toFixed(1)+','+yScale(p[1]).toFixed(1));
  const bottom=lower.slice().reverse().map(p=>xScale(p[0]).toFixed(1)+','+yScale(p[1]).toFixed(1));
  el.setAttribute('points',top.concat(bottom).join(' '));
  el.setAttribute('fill',fill);
}
function drawDots(name,polls,fill){
  polls.forEach(p=>{
    const el=make('circle',dotLayer,name);
    el.setAttribute('cx',xScale(p[0]).toFixed(1));
    el.setAttribute('cy',yScale(p[1]).toFixed(1));
    el.setAttribute('r','8.2');
    el.setAttribute('fill',fill);
  });
}
function drawDayRow(name,days,value,fill){
  days.forEach(d=>{
    const el=make('circle',dotLayer,name);
    el.setAttribute('cx',xScale(d).toFixed(1));
    el.setAttribute('cy',yScale(value).toFixed(1));
    el.setAttribute('r','8.2');
    el.setAttribute('fill',fill);
  });
}
function drawLine(name,values,stroke){
  const el=make('polyline',lineLayer,name);
  el.setAttribute('points',values.map(p=>xScale(p[0]).toFixed(1)+','+yScale(p[1]).toFixed(1)).join(' '));
  el.setAttribute('fill','none');
  el.setAttribute('stroke',stroke);
  el.setAttribute('stroke-width','6.5');
  el.setAttribute('stroke-linejoin','miter');
  el.setAttribute('stroke-miterlimit','5');
}

yTickValues.forEach(drawYTick);
xTickDays.forEach((d,i)=>drawXTick(d,xTickLabels[i]));

drawBand('trump-band',trumpUpper,trumpLower,'rgba(91,70,214,.16)');
drawBand('desantis-band',desantisUpper,desantisLower,'rgba(197,18,143,.16)');
drawBand('pence-band',penceUpper,penceLower,'rgba(200,70,20,.15)');
drawBand('haley-band',haleyUpper,haleyLower,'rgba(0,128,138,.17)');
drawBand('ramaswamy-band',ramaswamyUpper,ramaswamyLower,'rgba(140,110,20,.09)');
drawBand('others-band',othersUpper,othersLower,'rgba(90,90,90,.2)');
drawBand('early-minor-band',earlyMinorUpper,earlyMinorLower,'rgba(70,60,60,.3)');
drawBand('minor-candidates-band',minorUpper,minorLower,'rgba(100,25,25,.42)');

drawDots('trump-poll',trumpPolls,'rgba(91,70,214,.2)');
drawDots('desantis-poll',desantisPolls,'rgba(197,18,143,.24)');
drawDots('pence-poll',pencePolls,'rgba(205,80,30,.2)');
drawDots('ramaswamy-poll',ramaswamyPolls,'rgba(205,60,50,.26)');
drawDots('low-scatter-poll',lowScatterPolls,'rgba(160,60,50,.26)');
drawDots('haley-poll',haleyPolls,'rgba(0,118,135,.2)');
drawDayRow('minor-poll-3',threePollDays,3,'rgba(110,70,60,.24)');
drawDayRow('minor-poll-2',twoPollDays,2,'rgba(110,60,55,.24)');
drawDayRow('minor-poll-1',onePollDays,1,'rgba(120,50,50,.26)');
drawDayRow('zero-poll',zeroPollDays,0,'rgba(228,50,30,.2)');

drawLine('pence-average',penceAvg,'#c4400f');
drawLine('ramaswamy-average',ramaswamyAvg,'#8a6d14');
drawLine('haley-average',haleyAvg,'#0a8088');
drawLine('others-average',othersAvg,'#6b6b6b');
drawLine('desantis-average',desantisAvg,'#c5128f');
drawLine('trump-average',trumpAvg,'#5a46d6');

const axisBase=make('line',overlayLayer,'x-axis-baseline');
axisBase.setAttribute('x1',365);
axisBase.setAttribute('x2',xScale(lastDay)+1);
axisBase.setAttribute('y1',yScale(0));
axisBase.setAttribute('y2',yScale(0));
axisBase.setAttribute('stroke','#222');
axisBase.setAttribute('stroke-width','2.5');

const marker=make('line',overlayLayer,'event-marker-line');
marker.setAttribute('x1',xScale(markerDay));
marker.setAttribute('x2',xScale(markerDay));
marker.setAttribute('y1',402);
marker.setAttribute('y2',1167);
marker.setAttribute('stroke','#fb2f06');
marker.setAttribute('stroke-width','4.6');

const todayLine=make('line',overlayLayer,'latest-date-line');
todayLine.setAttribute('x1',xScale(lastDay));
todayLine.setAttribute('x2',xScale(lastDay));
todayLine.setAttribute('y1',522);
todayLine.setAttribute('y2',1206);
todayLine.setAttribute('stroke','#444');
todayLine.setAttribute('stroke-width','2');
todayLine.setAttribute('stroke-dasharray','5 5');
</script>
</body>
</html>
